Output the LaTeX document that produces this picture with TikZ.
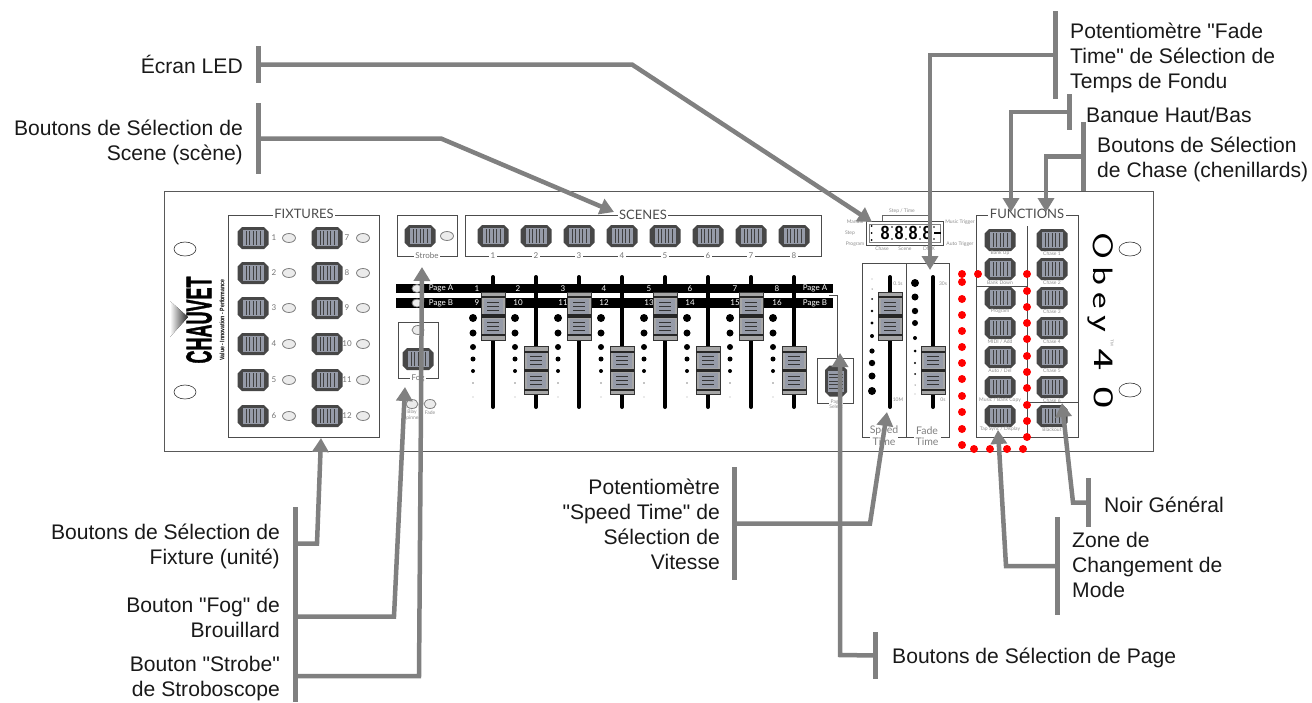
\documentclass[tikz,border=0pt]{standalone}
\usepackage{fontspec}
\setmainfont{Liberation Sans}
\newfontfamily\etfont{Liberation Sans}
\newfontfamily\panfont{Lato}
\newfontfamily\grasfont[FakeBold=1.6]{Liberation Sans Bold}
\usetikzlibrary{arrows.meta}
\definecolor{gris}{RGB}{128,128,128}
\definecolor{bleugris}{RGB}{150,155,168}
\tikzset{
	etiquette/.style={font=\etfont\fontsize{21.1}{24.7}\selectfont, inner sep=0pt, text=black!90},
	barre/.style={fill=gris, inner sep=0pt, minimum width=5pt},
	fleche/.style={draw=gris, line width=4.5pt, -{Triangle[width=16pt,length=14pt]}},
	boite/.style={draw=black!70, line width=0.9pt},
	titre/.style={font=\panfont\fontsize{13}{13}\selectfont, text=black!70, fill=white, inner sep=1.5pt},
	titreb/.style={font=\panfont\fontsize{10.5}{10.5}\selectfont, text=black!50, inner sep=0pt},
	chiffre/.style={font=\panfont\fontsize{8}{8}\selectfont, text=black!55, inner sep=0pt},
	chiffreb/.style={font=\panfont\fontsize{8}{8}\selectfont, text=black!55, fill=white, inner sep=1.5pt},
	mini/.style={font=\panfont\fontsize{5}{5.5}\selectfont, text=black!45, inner sep=0pt, align=center},
	page/.style={font=\panfont\fontsize{8}{8}\selectfont, text=white, inner sep=0pt},
	segment/.style={font=\etfont\fontsize{19}{19}\selectfont\bfseries, inner sep=0pt, xscale=.85},
	led/.style={draw=black!50, fill=black!8, line width=0.8pt},
	piste/.style={line width=4pt, line cap=round},
	rouge/.style={fill=red},
	bouton/.pic={
		\fill[black!72] (-11,-11) -- (11,-11) -- (15.5,-6.5) -- (15.5,6.5) -- (11,11) -- (-11,11) -- (-15.5,6.5) -- (-15.5,-6.5) -- cycle;
		\fill[bleugris] (-10.5,-8) rectangle (10.5,8);
		\foreach \b in {-7,-3.5,0,3.5,7} \draw[line width=1pt, black!75] (\b,-7) -- (\b,7);
	},
	curseur/.pic={
		\draw[fill=black!35, draw=black!80, line width=0.8pt] (-12,-24) rectangle (12,24);
		\fill[black!85] (-12,-20) rectangle (12,-18);
		\fill[black!85] (-12,-1.8) rectangle (12,1.8);
		\fill[black!85] (-12,18) rectangle (12,20);
		\fill[bleugris] (-9.5,-17.5) rectangle (9.5,-2.5);
		\fill[bleugris] (-9.5,2.5) rectangle (9.5,17.5);
		\foreach \b in {-14,-10,-6,6,10,14} \draw[line width=1pt, black!80] (-6,\b) -- (6,\b);
	},
}
\begin{document}
\begin{tikzpicture}[x=1pt,y=-1pt]
	\useasboundingbox (0,0) rectangle (1312,702);
	% facade et trous
	\draw[draw=black!65, line width=1pt] (164,191) rectangle (1153,451);
	\draw[line width=0.6pt, draw=black!80] (185,249) ellipse (11 and 7);
	\draw[line width=0.6pt, draw=black!80] (185,392) ellipse (11 and 7);
	\draw[line width=0.6pt, draw=black!80] (1130,249) ellipse (11 and 7);
	\draw[line width=0.6pt, draw=black!80] (1130,390) ellipse (11 and 7);
	% logos
	\fill[left color=white, right color=black!85] (170,301) -- (188,317) -- (170,337) -- cycle;
	\node (logoC) at (199,320) [rotate=90, xscale=.5, inner sep=0pt] {\grasfont\fontsize{36}{36}\selectfont CHAUVET};
	\node (logoV) at (222,320) [rotate=90, xscale=.8, inner sep=0pt] {\etfont\fontsize{6.5}{7}\selectfont\bfseries Value - Innovation - Performance};
	\node (logoO) at (1101,282.5) [rotate=-90, xscale=1.4, inner sep=0pt] {\sffamily\fontsize{28}{28}\selectfont O\kern5pt b\kern5pt e\kern5pt y};
	\node (logoT) at (1112,343) [rotate=-90, inner sep=0pt, text=black!50] {\sffamily\fontsize{4}{4}\selectfont TM};
	\node (logoQ) at (1104,378.5) [rotate=-90, xscale=1.7, inner sep=0pt] {\sffamily\fontsize{28}{28}\selectfont 4\kern9pt 0};

	% bloc fixtures
	\draw[boite] (228,215) rectangle (379,437);
	\node (tFix) at (304,214) [titre] {FIXTURES};
	\foreach \y [count=\i] in {238,273,308,344,380,416} {
		\pgfmathtruncatemacro\j{\i+6}
		\pic at (253,\y) {bouton};
		\node (fixA\i) at (274,\y) [chiffre] {\i};
		\draw[led] (289,\y) ellipse (6.5 and 4.5);
		\pic at (327,\y) {bouton};
		\node (fixB\i) at (347,\y) [chiffre] {\j};
		\draw[led] (363,\y) ellipse (6.5 and 4.5);
	}
	% strobe
	\draw[boite] (397,215) rectangle (457,256);
	\node (tStrobe) at (427,256) [chiffreb] {Strobe};
	\pic at (420,236) {bouton};
	\draw[led] (447,236) ellipse (6.5 and 4.5);
	% scenes
	\draw[boite] (465,215) rectangle (821,256);
	\node (tScene) at (643,215) [titre] {SCENES};
	\foreach \x [count=\i] in {493,536,579,622,665,708,751,794} {
		\pic at (\x,236) {bouton};
		\node (sc\i) at (\x,256) [chiffreb] {\i};
	}
	% barres page A et B
	\fill[black] (396,284) rectangle (833,293);
	\fill[black] (396,298) rectangle (833,308);
	\draw[led] (417,288.5) ellipse (5 and 4);
	\draw[led] (417,303) ellipse (5 and 4);
	\node (pgA) at (441,288.5) [page] {Page A};
	\node (pgB) at (441,303) [page] {Page B};
	\node (pgC) at (815,288.5) [page] {Page A};
	\node (pgD) at (815,303) [page] {Page B};
	\foreach \x/\n/\m in {477/1/9,518/2/10,563/3/11,604/4/12,649/5/13,690/6/14,735/7/15,777/8/16} {
		\node (pA\n) at (\x,288.5) [page] {\n};
		\node (pB\n) at (\x,303) [page] {\m};
	}
	% curseurs et points
	\foreach \x/\d/\c in {493/473/316,536/515/370.5,579/558/316,622/601/370.5,665/644/316,708/687/370.5,751/730/316,794/773/370.5} {
		\draw[piste] (\x,277) -- (\x,407);
		\pic at (\x,\c) {curseur};
		\foreach \y/\r in {318/4,333/3.5,347/3,359/2.5,371/2,383/0.7,397/0.4}
			\fill (\d,\y) circle (\r);
	}
	% fog
	\draw[boite] (398,322) rectangle (438,378);
	\node (tFog) at (418,378) [chiffreb] {Fog};
	\draw[led] (418,330) ellipse (6 and 4.5);
	\pic at (418,359) {bouton};
	\draw[led] (412,404) ellipse (6 and 4.5);
	\draw[led] (430,404) ellipse (6 and 4.5);
	\node (tBlay) at (412,415) [mini] {Blay\\Spinner};
	\node (tFade) at (430,413) [mini] {Fade};
	% selection de page
	\draw[boite] (817,358) rectangle (853,403);
	\draw[boite] (829,295) -- (837,295) -- (837,358);
	\pic at (836,381) [rotate=90] {bouton};
	\node (tPage) at (836,404) [mini, fill=white] {Page\\Select};
	% afficheur
	\draw[boite] (866,221) rectangle (943,245);
	\draw[draw=black!50, line width=0.6pt] (869,224) rectangle (940,242);
	\draw[draw=black!60, line width=0.6pt] (882,221) -- (882,215) -- (928,215) -- (928,221);
	\node (tStep) at (902,211) [mini] {Step / Time};
	\foreach \x [count=\i] in {885,899,913,927} {
		\node (dig\i) at (\x,233) [segment] {8};
		\fill (\x+7,239) circle (.8);
		\fill (\x+7,227) circle (.8);
	}
	\fill (933.5,232) rectangle (941,234);
	\foreach \y in {226,233,240} \fill (871.5,\y) circle (1);
	\node (tMan) at (855,222) [mini] {Manual};
	\node (tSt) at (850,233) [mini] {Step};
	\node (tPro) at (855,244) [mini] {Program};
	\node (tMus) at (960,222) [mini] {Music Trigger};
	\node (tAut) at (960,244) [mini] {Auto Trigger};
	\node (tCha) at (882,249) [mini] {Chase};
	\node (tSce) at (905,249) [mini] {Scene};
	\node (tDmx) at (929,249) [mini] {DMX};
	% speed et fade
	\draw[boite] (870,437) -- (862,437) -- (862,263) -- (949,263) -- (949,437) -- (941,437);
	\draw[boite] (898,437) -- (914,437);
	\draw[boite] (906,263) -- (906,437);
	\node (tSp) at (884,431) [titreb] {Speed};
	\node (tSq) at (884,442) [titreb] {Time};
	\node (tFa) at (927,431) [titreb] {Fade};
	\node (tFb) at (927,442) [titreb] {Time};
	\draw[piste] (890,277) -- (890,407);
	\draw[piste] (933,277) -- (933,407);
	\pic at (890,316) {curseur};
	\pic at (933,370.5) {curseur};
	\foreach \y/\r in {279/.3,289/.5,299/1,311/1.3,323/1.6,336/2,351/2.6,363/3.2,376/3.5,391/4}
		\fill (872,\y) circle (\r);
	\foreach \y/\r in {283/4,297/3.5,311/3.2,323/3,338/2,351/1.5,363/1.2,374/1,385/.5,394/.3}
		\fill (915,\y) circle (\r);
	\node (v1) at (898,284) [mini] {0.1s};
	\node (v2) at (898,400) [mini] {10M};
	\node (v3) at (943,284) [mini] {30s};
	\node (v4) at (943,400) [mini] {0s};
	% fonctions
	\draw[boite] (976,215) rectangle (1078,437);
	\node (tFon) at (1027,214) [titre] {FUNCTIONS};
	\draw[boite] (1027,226) -- (1027,437);
	\draw[boite] (976,286) -- (1027,286);
	\draw[boite] (1027,402) -- (1078,402);
	\foreach \y/\t [count=\i] in {240/Bank Up,269/Bank Down,298/Program,328/{MIDI / Add},357/{Auto / Del},387/{Music / Bank Copy},416/{Tap Sync / Display}} {
		\pic at (1000,\y) {bouton};
		\node (fa\i) at (1000,\y+13.5) [mini] {\t};
	}
	\foreach \y/\t [count=\i] in {240/Chase 1,269/Chase 2,298/Chase 3,328/Chase 4,357/Chase 5,387/Chase 6,416/Blackout} {
		\pic at (1052,\y) {bouton};
		\node (fb\i) at (1052,\y+13.5) [mini] {\t};
	}
	% zone en pointilles rouges
	\foreach \y in {274,282,299,315,331,347,363,379,396,412,429,445}
		\fill[rouge] (962,\y) circle (4);
	\foreach \y in {274,291,307,323,339,356,372,388,405,421,437}
		\fill[rouge] (1027,\y) circle (4);
	\foreach \x in {974,990,1007,1023}
		\fill[rouge] (\x,449) circle (4);
	\fill[rouge] (978,274) circle (4);

	% etiquettes
	\node (lblEcran) at (243,73) [etiquette, anchor=base east] {Écran LED};
	\node (lblScene) at (243,160) [etiquette, anchor=base east, align=right] {Boutons de Sélection de\\Scene (scène)};
	\node (lblFixture) at (280,564) [etiquette, anchor=base east, align=right] {Boutons de Sélection de\\Fixture (unité)};
	\node (lblFog) at (280,637) [etiquette, anchor=base east, align=right] {Bouton "Fog" de\\Brouillard};
	\node (lblStrobe) at (280,696) [etiquette, anchor=base east, align=right] {Bouton "Strobe"\\de Stroboscope};
	\node (lblSpeed) at (720,569) [etiquette, anchor=base east, align=right] {Potentiomètre\\"Speed Time" de\\Sélection de\\Vitesse};
	\node (lblPage) at (892,663) [etiquette, anchor=base west] {Boutons de Sélection de Page};
	\node (lblZone) at (1072,597) [etiquette, anchor=base west, align=left] {Zone de\\Changement de\\Mode};
	\node (lblNoir) at (1104,512) [etiquette, anchor=base west] {Noir Général};
	\node (lblFade) at (1070,88) [etiquette, anchor=base west, align=left] {Potentiomètre "Fade\\Time" de Sélection de\\Temps de Fondu};
	\node (lblBanque) at (1086,122) [etiquette, anchor=base west] {Banque Haut/Bas};
	\fill[white] (1085.5,122.5) rectangle (1250,131);
	\node (lblChase) at (1097,177) [etiquette, anchor=base west, align=left] {Boutons de Sélection\\de Chase (chenillards)};

	% barres des legendes
	\node (barEcran) at (258,64.5) [barre, minimum height=37pt] {};
	\node (barScene) at (258,138.5) [barre, minimum height=71pt] {};
	\node (barFixture) at (295,543.5) [barre, minimum height=73pt] {};
	\node (barFog) at (295,616.5) [barre, minimum height=73pt] {};
	\node (barStrobe) at (295,676) [barre, minimum height=52pt] {};
	\node (barSpeed) at (734.5,523.5) [barre, minimum height=113pt] {};
	\node (barPage) at (875.5,655.5) [barre, minimum height=47pt] {};
	\node (barZone) at (1057.5,566) [barre, minimum height=98pt] {};
	\node (barNoir) at (1088,502.5) [barre, minimum height=49pt] {};
	\node (barFade) at (1055,55) [barre, minimum height=88pt] {};
	\node (barBanque) at (1069,112) [barre, minimum height=36pt] {};
	\node (barChase) at (1083,156.5) [barre, minimum height=69pt] {};
	% cibles des fleches
	\coordinate (tipEcran) at (872,222);
	\coordinate (tipScene) at (614,212);
	\coordinate (tipFixture) at (321,438);
	\coordinate (tipFog) at (405,387);
	\coordinate (tipStrobe) at (422,267);
	\coordinate (tipSpeed) at (887,412);
	\coordinate (tipPage) at (840,353);
	\coordinate (tipZone) at (998,430);
	\coordinate (tipNoir) at (1062,403);
	\coordinate (tipFade) at (930,270);
	\coordinate (tipBanque) at (1011,212);
	\coordinate (tipChase) at (1046,212);
	% fleches
	\draw[fleche] (barEcran.center) -- (632,64.5) -- (tipEcran);
	\draw[fleche] (barScene.center) -- (441,138.5) -- (tipScene);
	\draw[fleche] (barFixture.center) -- (317,543.5) -- (tipFixture);
	\draw[fleche] (barFog.center) -- (394,616.5) -- (tipFog);
	\draw[fleche] (barStrobe.center) -- (419,676) -- (tipStrobe);
	\draw[fleche] (barSpeed.center) -- (870,523.5) -- (tipSpeed);
	\draw[fleche] (barPage.center) -- (840,655) -- (tipPage);
	\draw[fleche] (barZone.center) -- (1006,566) -- (tipZone);
	\draw[fleche] (barNoir.center) -- (1073,502.5) -- (tipNoir);
	\draw[fleche] (barFade.center) -- (930,55) -- (tipFade);
	\draw[fleche] (barBanque.center) -- (1011,112) -- (tipBanque);
	\draw[fleche] (barChase.center) -- (1046,156.5) -- (tipChase);
\end{tikzpicture}
\end{document}
